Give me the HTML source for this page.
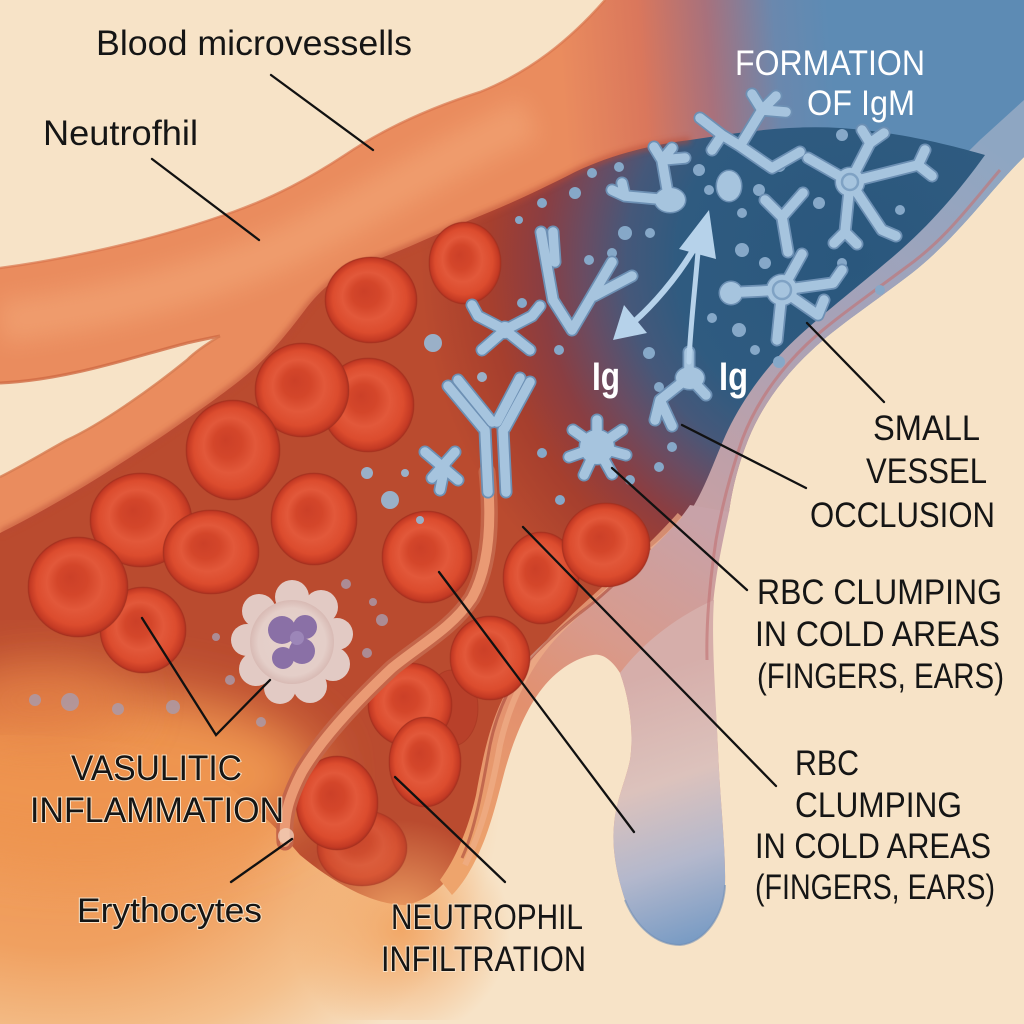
<!DOCTYPE html>
<html><head><meta charset="utf-8"><style>
html,body{margin:0;padding:0;background:#f7e3c7;width:1024px;height:1024px;overflow:hidden;}
svg{display:block;overflow:hidden;}
text{font-family:"Liberation Sans",Arial,sans-serif;}
</style></head><body>
<svg width="1024" height="1024" viewBox="0 0 1024 1024" xmlns="http://www.w3.org/2000/svg">
<defs>
<clipPath id="frame"><rect x="0" y="0" width="1024" height="1024"/></clipPath>
<filter id="b30" x="-50%" y="-50%" width="200%" height="200%"><feGaussianBlur stdDeviation="28"/></filter>
<filter id="b12" x="-20%" y="-20%" width="140%" height="140%"><feGaussianBlur stdDeviation="12"/></filter>
<filter id="b4" x="-10%" y="-10%" width="120%" height="120%"><feGaussianBlur stdDeviation="3"/></filter>
<radialGradient id="gGlow" gradientUnits="userSpaceOnUse" cx="60" cy="800" r="440" gradientTransform="translate(60 800) scale(1 0.75) translate(-60 -800)">
<stop offset="0" stop-color="#ee9450"/><stop offset="0.45" stop-color="#f0a060"/><stop offset="0.75" stop-color="#f4c08c"/><stop offset="1" stop-color="#f7e3c7"/>
</radialGradient>
<linearGradient id="gBody" gradientUnits="userSpaceOnUse" x1="560" y1="60" x2="830" y2="40">
<stop offset="0" stop-color="#ea8c5e"/><stop offset="0.3" stop-color="#da775c"/><stop offset="0.55" stop-color="#a8717c"/><stop offset="0.8" stop-color="#6a88ae"/><stop offset="1" stop-color="#5d8bb4"/>
</linearGradient>
<radialGradient id="gLum" gradientUnits="userSpaceOnUse" cx="850" cy="260" r="430">
<stop offset="0" stop-color="#2a577d"/><stop offset="0.4" stop-color="#2f5b80"/><stop offset="0.52" stop-color="#45587a"/><stop offset="0.62" stop-color="#6a4c62"/><stop offset="0.72" stop-color="#8a3e42"/><stop offset="0.84" stop-color="#a63f2e"/><stop offset="1" stop-color="#ba4b2f"/>
</radialGradient>
<linearGradient id="gRW" gradientUnits="userSpaceOnUse" x1="1000" y1="150" x2="720" y2="520">
<stop offset="0" stop-color="#8ea6c2"/><stop offset="0.5" stop-color="#a6a2b8"/><stop offset="1" stop-color="#c6a0a4"/>
</linearGradient>
<linearGradient id="gLR" gradientUnits="userSpaceOnUse" x1="700" y1="520" x2="470" y2="870">
<stop offset="0" stop-color="#c8a2a8"/><stop offset="0.35" stop-color="#d89a8c"/><stop offset="0.6" stop-color="#e2906e"/><stop offset="1" stop-color="#eea46c"/>
</linearGradient>
<linearGradient id="gFin" gradientUnits="userSpaceOnUse" x1="630" y1="680" x2="715" y2="935">
<stop offset="0" stop-color="#d6aeaa"/><stop offset="0.4" stop-color="#dcc2bc"/><stop offset="0.7" stop-color="#b4b8cc"/><stop offset="1" stop-color="#789bc4"/>
</linearGradient>
<radialGradient id="gOr2" gradientUnits="userSpaceOnUse" cx="400" cy="930" r="110">
<stop offset="0" stop-color="#f2a868" stop-opacity="1"/><stop offset="1" stop-color="#f2a868" stop-opacity="0"/>
</radialGradient>
<radialGradient id="rbc" cx="0.5" cy="0.5" r="0.5" fx="0.42" fy="0.4">
<stop offset="0" stop-color="#cc4028"/><stop offset="0.3" stop-color="#d4462a"/><stop offset="0.55" stop-color="#e2583a"/><stop offset="0.8" stop-color="#dc4c2e"/><stop offset="0.95" stop-color="#c43a24"/><stop offset="1" stop-color="#a83020"/>
</radialGradient>
<radialGradient id="gNeu" cx="0.5" cy="0.5" r="0.5">
<stop offset="0" stop-color="#e6d2cc"/><stop offset="0.8" stop-color="#e4cec8"/><stop offset="1" stop-color="#d8bab4"/>
</radialGradient>
<g id="mols">
<path d="M700,118 L722,135 L740,146 L772,168 L800,152 M740,146 L762,110 M762,110 L752,94 M762,110 L776,96 M762,110 L786,112 M722,135 L712,150"/>
<path d="M850,182 L808,158 M850,182 L870,143 M870,143 L862,130 M870,143 L884,133 M850,182 L918,165 M918,165 L925,150 M918,165 L932,176 M850,182 L882,230 M882,230 L896,236 M850,182 L845,232 M845,232 L834,243 M845,232 L857,244"/>
<path d="M669,200 L662,160 M662,160 L654,147 M662,160 L672,148 M662,160 L685,158 M669,200 L625,196 M625,196 L612,190 M625,196 L622,183"/>
<path d="M765,200 L782,217 L803,193 M782,217 L788,252"/>
<path d="M782,290 L742,292 M782,290 L802,254 M782,290 L833,283 M782,290 L777,340 M782,290 L818,315 M818,315 L824,300 M833,283 L842,270"/>
<path d="M597,447 L597,420 M597,447 L622,430 M597,447 L626,455 M597,447 L612,474 M597,447 L584,475 M597,447 L569,457 M597,447 L573,430"/>
<path d="M689,377 L689,352 M689,377 L660,400 M660,400 L655,420 M660,400 L672,426 M689,377 L706,395"/>
<path d="M541,232 L553,300 L572,330 M572,330 L612,262 M594,296 L632,276 M553,232 L555,262"/>
<path d="M448,386 L483,428 M458,380 L492,422 M530,382 L505,428 M520,378 L497,422 M485,430 L488,492 M503,430 L506,492"/>
<path d="M505,330 L478,316 M505,330 L482,350 M505,330 L532,316 M505,330 L530,350 M478,316 L472,305 M532,316 L540,306"/>
<path d="M425,452 L458,480 M432,478 L455,452 M445,465 L440,490"/>
</g>
<g id="molblobs">
<ellipse cx="670" cy="200" rx="15" ry="12"/>
<ellipse cx="729" cy="186" rx="12" ry="15"/>
<circle cx="850" cy="182" r="14"/>
<circle cx="782" cy="290" r="15"/>
<ellipse cx="731" cy="293" rx="11" ry="11"/>
<circle cx="597" cy="447" r="17"/>
<ellipse cx="690" cy="378" rx="14" ry="11"/>
<circle cx="505" cy="330" r="8"/>
</g>
</defs>

<g clip-path="url(#frame)">
<rect width="1024" height="1024" fill="#f7e3c7"/>
<!-- bottom-left glow -->
<rect x="0" y="460" width="520" height="564" fill="url(#gGlow)"/>

<!-- upper body -->
<path d="M0,268 C60,260 150,242 233,212 C275,197 310,178 345,155 C385,128 430,108 480,92 C530,72 570,40 605,0 L1024,0 L1024,157 C990,190 960,235 912,273 C870,305 835,328 812,350 C785,375 762,405 748,440 C738,465 732,490 729,512 L690,545 L300,500 L0,600 Z" fill="url(#gBody)"/>
<path d="M0,322 C100,310 200,285 290,245 C370,205 430,165 530,118" fill="none" stroke="#f6b080" stroke-width="42" opacity="0.45" filter="url(#b12)"/>
<path d="M0,268 C60,260 150,242 233,212 C275,197 310,178 345,155 C385,128 430,108 480,92 C530,72 570,40 605,0" fill="none" stroke="#d8744c" stroke-width="2.5" opacity="0.7"/>
<!-- right wall -->
<path d="M1024,100 L1024,157 C990,190 960,235 912,273 C870,305 835,328 812,350 C785,375 762,405 748,440 C738,465 732,490 729,512 L690,545 L650,520 C680,480 700,420 740,370 C790,310 900,220 980,140 Z" fill="url(#gRW)"/>

<!-- lumen -->
<path d="M0,533 C50,508 100,478 167,433 C200,410 233,387 250,372 C270,355 290,330 305,310 C320,290 340,272 370,262 C410,248 440,232 475,218 C505,206 540,190 575,172 C610,155 650,145 690,140 C740,132 790,125 840,128 C900,132 950,145 985,155 C960,190 930,225 895,255 C860,285 830,308 800,335 C770,362 745,395 728,430 C714,460 705,490 688,515 C675,532 662,540 647,552 C625,575 600,598 580,613 C560,628 540,645 522,665 C505,690 495,720 490,745 C482,790 475,830 462,858 C450,880 432,900 405,905 C370,905 330,880 300,855 C270,820 230,780 180,760 C130,740 70,735 0,735 Z" fill="url(#gLum)"/>
<path d="M0,533 C50,508 100,478 167,433 C200,410 233,387 250,372 C270,355 290,330 305,310 C320,290 340,272 370,262 C410,248 440,232 475,218 C505,206 540,190 575,172 C610,155 650,145 690,140" fill="none" stroke="#b84a34" stroke-width="6" opacity="0.6" filter="url(#b4)"/>
<!-- soft orange fade at lower-left of lumen -->
<ellipse cx="90" cy="775" rx="230" ry="85" fill="#ee9450" filter="url(#b30)"/>
<ellipse cx="40" cy="700" rx="90" ry="40" fill="#e27e44" opacity="0.8" filter="url(#b30)"/>
<rect x="290" y="820" width="230" height="200" fill="url(#gOr2)"/>

<!-- cream wedge -->
<path d="M0,383 C67,380 133,357 187,343 C200,340 210,338 220,336 C205,345 195,352 187,360 C150,390 100,425 67,440 C40,455 20,467 0,477 Z" fill="#f7e3c7"/>
<path d="M0,383 C67,380 133,357 187,343 C200,340 210,338 220,336" fill="none" stroke="#cf6a44" stroke-width="3" opacity="0.8"/>
<path d="M220,336 C205,345 195,352 187,360 C150,390 100,425 67,440 C40,455 20,467 0,477" fill="none" stroke="#d67a50" stroke-width="2.5" opacity="0.8"/>

<!-- lower right piece: band B + finger -->
<path d="M729,512 C722,545 714,580 712,620 C711,660 716,700 718,750 C720,800 726,850 725,885 C724,915 705,943 680,945 C655,945 635,925 625,900 C615,870 612,845 614,825 C616,800 626,780 630,760 C634,735 630,700 620,673 C612,660 602,653 593,655 C575,658 558,670 545,685 C528,705 515,735 505,770 C497,800 490,830 478,855 C470,872 462,885 452,895 L440,880 C455,860 468,830 476,795 C484,750 492,715 510,685 C530,655 555,635 580,612 C605,590 630,565 650,548 C668,533 680,520 690,505 Z" fill="url(#gLR)"/>
<path d="M714,600 C711,640 716,700 718,750 C720,800 726,850 725,885 C724,915 705,943 680,945 C655,945 635,925 625,900 C615,870 612,845 614,825 C616,800 626,780 630,760 C634,735 630,700 620,673 C645,640 680,615 714,600 Z" fill="url(#gFin)"/>
<path d="M725,885 C724,915 705,943 680,945 C655,945 635,925 625,900" fill="none" stroke="#6f8fb8" stroke-width="2" opacity="0.6"/>
<path d="M1000,170 C970,205 945,240 905,268 C865,298 830,322 806,345 C778,372 755,405 742,440 C730,475 722,505 716,540 C710,580 706,620 707,660" fill="none" stroke="#c27476" stroke-width="3" opacity="0.65"/>
<path d="M680,515 C640,560 590,600 560,630 C530,660 510,700 500,745 C492,790 482,830 465,865" fill="none" stroke="#f0ae88" stroke-width="6" opacity="0.7"/>
<path d="M650,548 C625,575 600,598 580,613 C555,633 535,652 520,670 C505,695 495,720 490,745 C482,790 475,830 462,858" fill="none" stroke="#a8483a" stroke-width="3" opacity="0.6"/>

<!-- RBCs -->
<g stroke="#9a2c1c" stroke-width="1" stroke-opacity="0.4">
<ellipse cx="465" cy="263" rx="36" ry="41" fill="url(#rbc)"/>
<ellipse cx="371" cy="300" rx="46" ry="43" fill="url(#rbc)"/>
<ellipse cx="368" cy="405" rx="46" ry="47" fill="url(#rbc)"/>
<ellipse cx="302" cy="390" rx="47" ry="47" fill="url(#rbc)"/>
<ellipse cx="233" cy="450" rx="47" ry="50" fill="url(#rbc)"/>
<ellipse cx="314" cy="519" rx="43" ry="46" fill="url(#rbc)"/>
<ellipse cx="141" cy="520" rx="51" ry="47" fill="url(#rbc)"/>
<ellipse cx="211" cy="552" rx="48" ry="42" fill="url(#rbc)"/>
<ellipse cx="143" cy="630" rx="43" ry="43" fill="url(#rbc)"/>
<ellipse cx="78" cy="587" rx="50" ry="50" fill="url(#rbc)"/>
<ellipse cx="427" cy="557" rx="45" ry="46" fill="url(#rbc)"/>
<ellipse cx="541" cy="578" rx="38" ry="46" fill="url(#rbc)"/>
<ellipse cx="606" cy="545" rx="44" ry="42" fill="url(#rbc)"/>
<ellipse cx="452" cy="708" rx="26" ry="38" fill="#b8402a"/>
<ellipse cx="490" cy="658" rx="40" ry="42" fill="url(#rbc)"/>
<ellipse cx="410" cy="705" rx="42" ry="42" fill="url(#rbc)"/>
<ellipse cx="425" cy="762" rx="36" ry="45" fill="url(#rbc)"/>
<ellipse cx="362" cy="848" rx="45" ry="38" fill="url(#rbc)" opacity="0.7"/>
<ellipse cx="337" cy="803" rx="41" ry="47" fill="url(#rbc)"/>
</g>

<!-- band A -->
<path d="M487,472 C492,520 490,565 472,598 C452,628 420,645 392,668 C358,700 322,738 302,772 C290,795 283,815 285,842" fill="none" stroke="#c4664a" stroke-width="17" stroke-linecap="round"/>
<path d="M487,472 C492,520 490,565 472,598 C452,628 420,645 392,668 C358,700 322,738 302,772 C290,795 283,815 285,842" fill="none" stroke="#ea9a74" stroke-width="10" stroke-linecap="round"/>
<circle cx="286" cy="836" r="8" fill="#f2d4c0" opacity="0.7"/>

<!-- neutrophil -->
<g>
<g fill="#e2cac4">
<circle cx="292" cy="597" r="17"/><circle cx="321" cy="607" r="17"/><circle cx="337" cy="634" r="16"/><circle cx="333" cy="664" r="17"/><circle cx="310" cy="686" r="17"/><circle cx="280" cy="688" r="16"/><circle cx="256" cy="669" r="17"/><circle cx="247" cy="640" r="16"/><circle cx="259" cy="611" r="17"/>
</g>
<circle cx="292" cy="642" r="42" fill="url(#gNeu)"/>
<g fill="#8a70a6">
<circle cx="282" cy="630" r="14"/><circle cx="305" cy="627" r="12"/><circle cx="302" cy="651" r="13"/><circle cx="283" cy="658" r="11"/>
</g>
<circle cx="297" cy="638" r="7" fill="#9c86b8"/>
</g>

<!-- dots -->
<g fill="#a99cae" opacity="0.8">
<circle cx="35" cy="700" r="6"/><circle cx="70" cy="702" r="9"/><circle cx="118" cy="709" r="6"/><circle cx="173" cy="707" r="7"/><circle cx="216" cy="637" r="4"/><circle cx="261" cy="722" r="5"/><circle cx="346" cy="584" r="5"/><circle cx="382" cy="620" r="6"/><circle cx="373" cy="602" r="4"/><circle cx="230" cy="680" r="5"/><circle cx="367" cy="653" r="5"/>
</g>
<g fill="#9ab0c8">
<circle cx="433" cy="343" r="9"/><circle cx="482" cy="377" r="5"/><circle cx="390" cy="500" r="9"/><circle cx="405" cy="473" r="4"/><circle cx="367" cy="473" r="6"/><circle cx="420" cy="520" r="4"/>
</g>
<g fill="#86a8c8">
<circle cx="842" cy="135" r="6"/><circle cx="779" cy="165" r="7"/><circle cx="699" cy="170" r="6"/><circle cx="709" cy="190" r="5"/><circle cx="759" cy="190" r="6"/><circle cx="742" cy="213" r="5"/><circle cx="819" cy="203" r="6"/><circle cx="625" cy="233" r="7"/><circle cx="650" cy="233" r="5"/><circle cx="612" cy="253" r="5"/><circle cx="742" cy="250" r="7"/><circle cx="765" cy="263" r="6"/><circle cx="842" cy="263" r="5"/><circle cx="712" cy="318" r="5"/><circle cx="739" cy="330" r="7"/><circle cx="755" cy="350" r="5"/><circle cx="779" cy="362" r="6"/><circle cx="649" cy="353" r="6"/><circle cx="659" cy="387" r="5"/><circle cx="672" cy="447" r="5"/><circle cx="659" cy="467" r="5"/><circle cx="542" cy="453" r="5"/><circle cx="559" cy="350" r="5"/><circle cx="522" cy="303" r="5"/><circle cx="589" cy="260" r="5"/><circle cx="575" cy="193" r="6"/><circle cx="592" cy="173" r="5"/><circle cx="542" cy="203" r="5"/><circle cx="519" cy="220" r="4"/><circle cx="619" cy="167" r="5"/><circle cx="880" cy="290" r="5"/><circle cx="900" cy="210" r="5"/><circle cx="630" cy="480" r="5"/><circle cx="560" cy="500" r="5"/>
</g>

<!-- molecules -->
<use href="#mols" fill="none" stroke="#6d90b4" stroke-width="13" stroke-linecap="round" stroke-linejoin="round"/>
<use href="#molblobs" fill="#6d90b4" stroke="#6d90b4" stroke-width="3"/>
<use href="#mols" fill="none" stroke="#a6c4de" stroke-width="9.5" stroke-linecap="round" stroke-linejoin="round"/>
<use href="#molblobs" fill="#a6c4de"/>
<circle cx="850" cy="182" r="8" fill="none" stroke="#7fa2c4" stroke-width="2.5"/>
<circle cx="782" cy="290" r="9" fill="none" stroke="#7fa2c4" stroke-width="2.5"/>

<!-- arrows -->
<g fill="none" stroke="#b6d2ea" stroke-linecap="round">
<path d="M699,240 C680,275 650,310 624,330" stroke-width="6"/>
<path d="M699,240 C695,290 690,330 689,362" stroke-width="5"/>
</g>
<polygon points="709,210 679,249 716,259" fill="#b6d2ea"/>
<polygon points="613,340 624,305 647,333" fill="#b6d2ea"/>

<!-- white labels -->
<g fill="#ffffff">
<text x="735" y="75" font-size="35" textLength="190" lengthAdjust="spacingAndGlyphs">FORMATION</text>
<text x="807" y="115" font-size="35" textLength="108" lengthAdjust="spacingAndGlyphs">OF IgM</text>
<text x="592" y="390" font-size="40" font-weight="bold" textLength="28" lengthAdjust="spacingAndGlyphs">Ig</text>
<text x="719" y="390" font-size="40" font-weight="bold" textLength="29" lengthAdjust="spacingAndGlyphs">Ig</text>
</g>

<!-- leader lines -->
<g stroke="#111" stroke-width="2.3" fill="none" stroke-linecap="round">
<line x1="271" y1="75" x2="373" y2="150"/>
<line x1="152" y1="159" x2="259" y2="240"/>
<line x1="807" y1="323" x2="884" y2="402"/>
<line x1="682" y1="425" x2="806" y2="488"/>
<line x1="612" y1="468" x2="747" y2="590"/>
<line x1="523" y1="527" x2="776" y2="786"/>
<line x1="439" y1="572" x2="634" y2="832"/>
<polyline points="142,618 216,735 270,680"/>
<line x1="231" y1="882" x2="292" y2="839"/>
<line x1="395" y1="777" x2="505" y2="882"/>
</g>

<!-- black labels -->
<g fill="#151515">
<text x="96" y="55" font-size="35" textLength="316" lengthAdjust="spacingAndGlyphs">Blood microvessells</text>
<text x="43" y="145" font-size="35" textLength="155" lengthAdjust="spacingAndGlyphs">Neutrofhil</text>
<text x="873" y="440" font-size="35" textLength="107" lengthAdjust="spacingAndGlyphs">SMALL</text>
<text x="866" y="483" font-size="35" textLength="121" lengthAdjust="spacingAndGlyphs">VESSEL</text>
<text x="810" y="527" font-size="35" textLength="185" lengthAdjust="spacingAndGlyphs">OCCLUSION</text>
<text x="757" y="604" font-size="35" textLength="245" lengthAdjust="spacingAndGlyphs">RBC CLUMPING</text>
<text x="755" y="646" font-size="35" textLength="245" lengthAdjust="spacingAndGlyphs">IN COLD AREAS</text>
<text x="757" y="688" font-size="35" textLength="247" lengthAdjust="spacingAndGlyphs">(FINGERS, EARS)</text>
<text x="795" y="775" font-size="35" textLength="64" lengthAdjust="spacingAndGlyphs">RBC</text>
<text x="795" y="817" font-size="35" textLength="167" lengthAdjust="spacingAndGlyphs">CLUMPING</text>
<text x="755" y="858" font-size="35" textLength="236" lengthAdjust="spacingAndGlyphs">IN COLD AREAS</text>
<text x="755" y="899" font-size="35" textLength="240" lengthAdjust="spacingAndGlyphs">(FINGERS, EARS)</text>
<g stroke="#f8e2c8" stroke-width="2" paint-order="stroke">
<text x="71" y="780" font-size="35" textLength="171" lengthAdjust="spacingAndGlyphs">VASULITIC</text>
<text x="30" y="822" font-size="35" textLength="254" lengthAdjust="spacingAndGlyphs">INFLAMMATION</text>
<text x="77" y="922" font-size="34" textLength="185" lengthAdjust="spacingAndGlyphs">Erythocytes</text>
<text x="391" y="929" font-size="35" textLength="192" lengthAdjust="spacingAndGlyphs">NEUTROPHIL</text>
<text x="381" y="971" font-size="35" textLength="205" lengthAdjust="spacingAndGlyphs">INFILTRATION</text>
</g>
</g>
</g>
</svg>
</body></html>
